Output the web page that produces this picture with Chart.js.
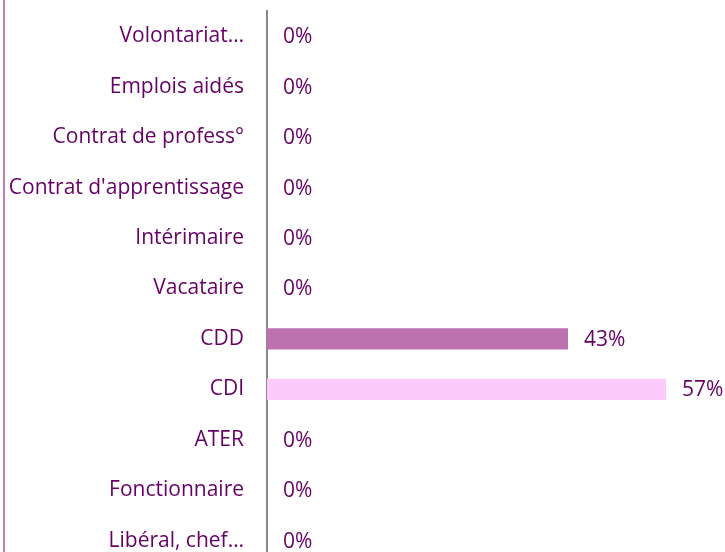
<!DOCTYPE html>
<html>
<head>
<meta charset="utf-8">
<script src="https://cdn.jsdelivr.net/npm/chart.js@4"></script>
<style>
  html, body { margin: 0; padding: 0; background: #fff; overflow: hidden; }
  #cadre { position: relative; width: 725px; height: 552px; overflow: hidden; }
  #bord { position: absolute; left: 3px; top: 0; width: 2px; height: 552px; background: #c080c0; }
  #graphe { position: absolute; left: 0; top: 0; }
</style>
</head>
<body>
<div id="cadre">
  <div id="bord"></div>
  <canvas id="graphe" width="725" height="570"></canvas>
</div>
<script>
// Catégories (de haut en bas)
const categories = ['Volontariat…', 'Emplois aidés', 'Contrat de profess°', "Contrat d'apprentissage",
  'Intérimaire', 'Vacataire', 'CDD', 'CDI', 'ATER', 'Fonctionnaire', 'Libéral, chef…'];
// Pourcentages
const valeurs = [0, 0, 0, 0, 0, 0, 43, 57, 0, 0, 0];
// Couleurs des barres
const couleurs = ['#bd72b0', '#bd72b0', '#bd72b0', '#bd72b0', '#bd72b0', '#bd72b0',
  '#bd72b0', '#fccbfc', '#bd72b0', '#bd72b0', '#bd72b0'];

const violet = '#660066';
const police = '"Open Sans"';
const taille = 21;

// Plugin pour écrire les pourcentages au bout des barres
const etiquettes = {
    id: 'etiquettes',
    afterDatasetsDraw(chart) {
        const ctx = chart.ctx;
        const meta = chart.getDatasetMeta(0);
        ctx.save();
        ctx.font = taille + 'px ' + police;
        ctx.fillStyle = violet;
        ctx.textAlign = 'left';
        ctx.textBaseline = 'middle';
        meta.data.forEach((barre, i) => {
            ctx.fillText(valeurs[i] + '%', barre.x + 16, barre.y + 1);
        });
        ctx.restore();
    }
};

const ctx = document.getElementById('graphe').getContext('2d');
new Chart(ctx, {
    type: 'bar',
    data: {
        labels: categories,
        datasets: [{
            data: valeurs,
            backgroundColor: couleurs,
            barPercentage: 0.42,
            categoryPercentage: 1
        }]
    },
    options: {
        indexAxis: 'y',
        responsive: false,
        animation: false,
        layout: { padding: { top: 11, right: 3, bottom: 4, left: 0 } },
        plugins: {
            legend: { display: false },
            tooltip: { enabled: false }
        },
        scales: {
            x: {
                display: false,
                min: 0,
                max: 65
            },
            y: {
                afterFit(scale) {
                    scale.width = 267;
                    scale.paddingTop = 0;
                    scale.paddingBottom = 0;
                },
                grid: { display: false },
                border: { display: true, color: '#888888', width: 2 },
                ticks: {
                    padding: 15,
                    color: violet,
                    font: { family: police, size: taille }
                }
            }
        }
    },
    plugins: [etiquettes]
});
</script>
</body>
</html>
